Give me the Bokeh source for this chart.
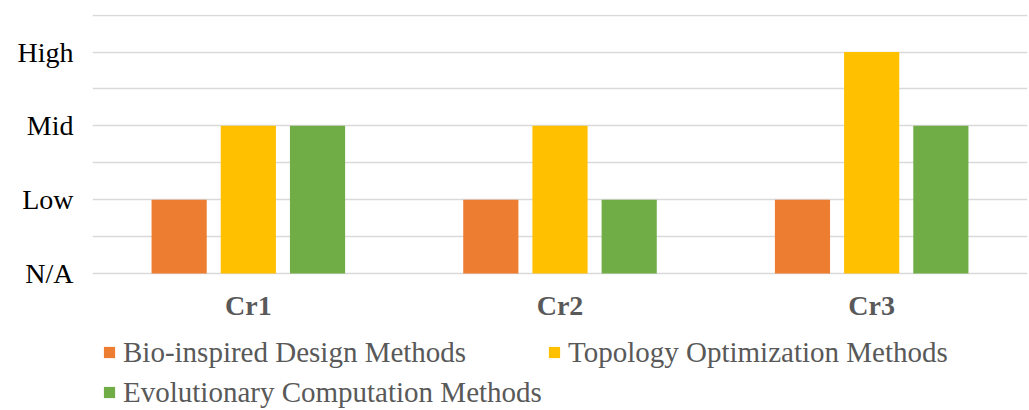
from bokeh.plotting import figure
from bokeh.models import FactorRange, Range1d, FixedTicker, Legend, LegendItem, ColumnDataSource
from bokeh.transform import dodge
from bokeh.embed import file_html
from bokeh.resources import INLINE

criteria = ["Cr1", "Cr2", "Cr3"]
series_names = ["Bio-inspired Design Methods", "Topology Optimization Methods", "Evolutionary Computation Methods"]
bio = [1, 1, 1]
topo = [2, 2, 3]
evo = [2, 1, 2]
level_ticks = [0, 1, 2, 3]
level_labels = ["N/A", "Low", "Mid", "High"]
grid_steps = [0, 0.5, 1, 1.5, 2, 2.5, 3, 3.5]

colors = ["#ED7D31", "#FFC000", "#70AD47"]
FONT = "Liberation Serif"

src = ColumnDataSource(dict(cat=criteria, bio=bio, topo=topo, evo=evo))

# the frame extends to the bottom of the page so the legend can sit inside it
p = figure(x_range=FactorRange(*criteria, range_padding=0), y_range=Range1d(-1.859, 3.51),
           width=1029, height=410, output_backend="svg", toolbar_location=None,
           min_border_left=92, min_border_right=2, min_border_top=14, min_border_bottom=0)
p.outline_line_color = None
p.background_fill_color = "white"

off = 0.222
w = 0.177
r1 = p.vbar(x=dodge("cat", -off, range=p.x_range), top="bio", width=w, source=src, color=colors[0], line_color=None)
r2 = p.vbar(x=dodge("cat", 0, range=p.x_range), top="topo", width=w, source=src, color=colors[1], line_color=None)
r3 = p.vbar(x=dodge("cat", off, range=p.x_range), top="evo", width=w, source=src, color=colors[2], line_color=None)

p.xgrid.visible = False
p.ygrid[0].ticker = FixedTicker(ticks=grid_steps)
p.ygrid[0].grid_line_color = "#D9D9D9"
p.ygrid[0].grid_line_width = 1.3

p.yaxis.ticker = FixedTicker(ticks=level_ticks)
p.yaxis.major_label_overrides = {t: l for t, l in zip(level_ticks, level_labels)}
p.yaxis.axis_line_color = None
p.yaxis.major_tick_line_color = None
p.yaxis.minor_tick_line_color = None
p.yaxis.major_label_text_font = FONT
p.yaxis.major_label_text_font_size = "28px"
p.yaxis.major_label_text_color = "black"
p.yaxis.major_label_standoff = 13

p.xaxis.fixed_location = 0
p.xaxis.axis_line_color = None
p.xaxis.major_tick_line_color = None
p.xaxis.major_label_text_font = FONT
p.xaxis.major_label_text_font_size = "28px"
p.xaxis.major_label_text_font_style = "bold"
p.xaxis.major_label_text_color = "#595959"
p.xaxis.major_label_standoff = 11

legend = Legend(items=[LegendItem(label=series_names[0], renderers=[r1]),
                       LegendItem(label=series_names[1], renderers=[r2]),
                       LegendItem(label=series_names[2], renderers=[r3])],
                orientation="horizontal", ncols=2, location=(10, 0),
                label_text_font=FONT, label_text_font_size="29px", label_text_color="#595959",
                glyph_width=14, glyph_height=14, label_height=36, label_width=420,
                spacing=4, padding=0, margin=0,
                label_standoff=7, border_line_color=None, background_fill_alpha=0)
p.add_layout(legend, "center")

open("out.html", "w").write(file_html(p, INLINE))
